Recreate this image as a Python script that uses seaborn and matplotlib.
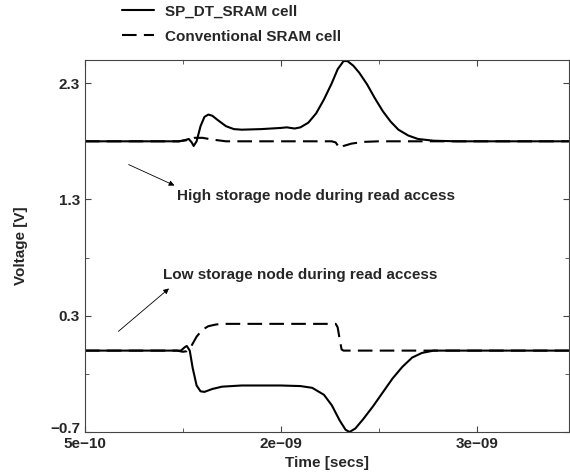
import pandas as pd
import numpy as np
import matplotlib
matplotlib.use("Agg")
import matplotlib.pyplot as plt
import matplotlib.transforms as mtransforms
import seaborn as sns

# time in ns, voltage in V
t_high_sp = [1.00, 1.45, 1.48, 1.51, 1.53, 1.545, 1.555, 1.57, 1.59, 1.61, 1.63, 1.65, 1.68,
             1.72, 1.76, 1.80, 1.90, 2.00, 2.03, 2.07, 2.10, 2.14, 2.18, 2.22, 2.26, 2.29,
             2.32, 2.34, 2.37, 2.40, 2.44, 2.48, 2.52, 2.56, 2.60, 2.65, 2.70, 2.78, 2.90, 3.47]
v_high_sp = [1.80, 1.80, 1.80, 1.81, 1.82, 1.79, 1.76, 1.80, 1.93, 2.01, 2.03, 2.02, 1.98,
             1.93, 1.905, 1.90, 1.905, 1.915, 1.92, 1.91, 1.92, 1.96, 2.04, 2.16, 2.30, 2.42,
             2.49, 2.49, 2.45, 2.39, 2.29, 2.17, 2.06, 1.97, 1.90, 1.85, 1.82, 1.805, 1.80, 1.80]

t_high_conv = [1.00, 1.48, 1.52, 1.56, 1.60, 1.65, 1.72, 2.26, 2.28, 2.30, 2.32, 2.36, 2.42, 2.50, 3.47]
v_high_conv = [1.80, 1.80, 1.81, 1.83, 1.83, 1.815, 1.80, 1.80, 1.79, 1.74, 1.76, 1.78, 1.795, 1.80, 1.80]

t_low_sp = [1.00, 1.46, 1.49, 1.51, 1.52, 1.535, 1.55, 1.57, 1.59, 1.61, 1.65, 1.70, 1.80,
            2.00, 2.10, 2.16, 2.22, 2.26, 2.30, 2.33, 2.35, 2.38, 2.42, 2.47, 2.52, 2.57,
            2.62, 2.67, 2.72, 2.78, 3.47]
v_low_sp = [0.00, 0.00, 0.00, 0.03, 0.04, 0.00, -0.15, -0.30, -0.35, -0.355, -0.33, -0.31, -0.30,
            -0.30, -0.305, -0.32, -0.38, -0.47, -0.60, -0.68, -0.70, -0.67, -0.59, -0.48, -0.36, -0.24,
            -0.14, -0.06, -0.02, 0.00, 0.00]

t_low_conv = [1.00, 1.47, 1.50, 1.52, 1.54, 1.57, 1.60, 1.63, 1.67, 1.72, 2.28, 2.29, 2.30, 2.31, 2.32, 3.47]
v_low_conv = [0.00, 0.00, -0.01, -0.005, 0.03, 0.12, 0.18, 0.21, 0.225, 0.23, 0.23, 0.20, 0.10, 0.01, 0.00, 0.00]

x_ticks = [1, 2, 3]
x_tick_labels = ["5e\u221210", "2e\u221209", "3e\u221209"]
y_ticks = [2.3, 1.3, 0.3, -0.7]
y_tick_labels = ["2.3", "1.3", "0.3", "\u22120.7"]

sns.set_style("ticks")
plt.rcParams['font.family'] = ['Liberation Sans', 'DejaVu Sans']
plt.rcParams['font.weight'] = 'bold'

fig = plt.figure(figsize=(5.7, 4.74), dpi=100)
ax = fig.add_axes([0.149, 0.0886, 0.849, 0.785])

df_sp = pd.concat([
    pd.DataFrame({"t": t_high_sp, "v": v_high_sp, "node": "high"}),
    pd.DataFrame({"t": t_low_sp, "v": v_low_sp, "node": "low"}),
])
df_conv = pd.concat([
    pd.DataFrame({"t": t_high_conv, "v": v_high_conv, "node": "high"}),
    pd.DataFrame({"t": t_low_conv, "v": v_low_conv, "node": "low"}),
])

sns.lineplot(data=df_conv, x="t", y="v", units="node", estimator=None, sort=False,
             color="black", linewidth=1.5, ax=ax, legend=False)
for ln in ax.lines:
    ln.set_dashes((7, 3.5))
sns.lineplot(data=df_sp, x="t", y="v", units="node", estimator=None, sort=False,
             color="black", linewidth=1.5, ax=ax, legend=False)

ax.set_xlim(1.0, 3.47)
ax.set_ylim(-0.7, 2.5)
ax.set_xticks(x_ticks)
ax.set_xticklabels(x_tick_labels)
ax.set_yticks(y_ticks)
ax.set_yticklabels(y_tick_labels)
ax.set_xticks([1.5, 2.5], minor=True)
ax.set_yticks([1.8, 0.8, -0.2], minor=True)
ax.tick_params(direction="in", top=True, right=True, which="both", labelsize=11, length=4,
               color="#444444")
ax.tick_params(which="minor", length=3)
for s in ax.spines.values():
    s.set_color("#444444")
    s.set_linewidth(0.8)
# lift the lowest y label a little so it sits above the first x label, as in the original
lbl = ax.get_yticklabels()[-1]
lbl.set_transform(lbl.get_transform() + mtransforms.ScaledTranslation(0, 3 / 72, fig.dpi_scale_trans))

ax.set_xlabel("Time [secs]", fontsize=11, fontweight="bold", labelpad=4)
ax.set_ylabel("Voltage [V]", fontsize=11, fontweight="bold", labelpad=16)

ax.annotate("", xy=(1.47, 1.41), xytext=(1.21, 1.61),
            arrowprops=dict(arrowstyle="-|>", lw=0.6, color="black", mutation_scale=8))
ax.text(1.47, 1.33, "High storage node during read access", fontsize=11,
        fontweight="bold", va="center", ha="left")
ax.annotate("", xy=(1.44, 0.55), xytext=(1.16, 0.15),
            arrowprops=dict(arrowstyle="-|>", lw=0.6, color="black", mutation_scale=8))
ax.text(1.40, 0.65, "Low storage node during read access", fontsize=11,
        fontweight="bold", va="center", ha="left")

h_sp = plt.Line2D([], [], color="black", lw=1.5)
h_conv = plt.Line2D([], [], color="black", lw=1.5, dashes=(7, 3.5))
fig.legend([h_sp, h_conv], ["SP_DT_SRAM cell", "Conventional SRAM cell"],
           loc="upper left", bbox_to_anchor=(0.19, 1.02), frameon=False,
           fontsize=11, handlelength=2.1, labelspacing=0.75, handletextpad=0.7)

fig.savefig("out.png", dpi=100)
